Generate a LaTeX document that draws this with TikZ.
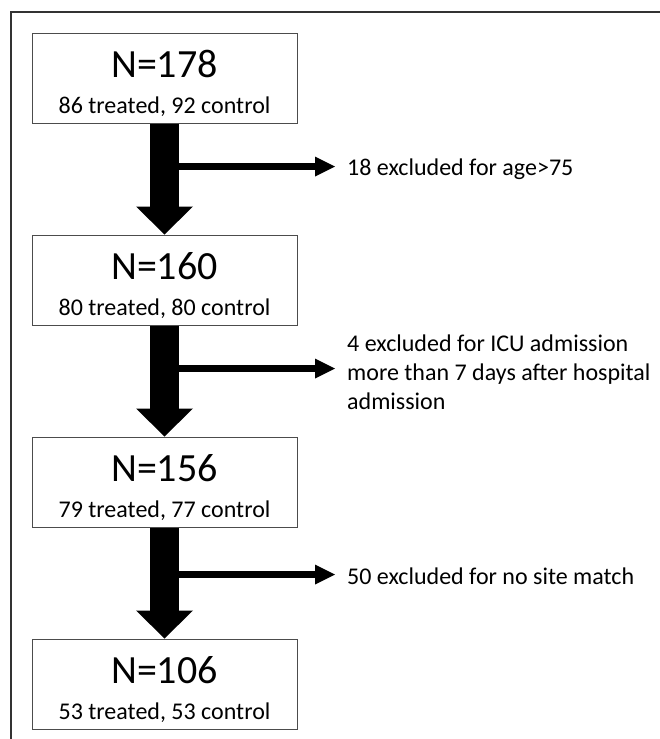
\documentclass[tikz,border=0pt]{standalone}
\usepackage{fontspec}
\setmainfont{Carlito}
\usetikzlibrary{arrows.meta,positioning,calc}

\begin{document}
\begin{tikzpicture}[x=1pt,y=1pt,
    box/.style={draw=black!70,line width=1pt,minimum width=265pt,minimum height=90pt,inner sep=0pt},
    big/.style={inner sep=0pt,font=\fontsize{40}{48}\selectfont},
    small/.style={inner sep=0pt,font=\fontsize{24}{29}\selectfont},
    excl/.style={inner sep=0pt,align=left,anchor=west,font=\fontsize{24}{29}\selectfont},
    flow/.style={line width=29pt,-{Triangle[width=57pt,length=28pt,line width=0pt]}},
    side/.style={line width=7pt,-{Triangle[width=20pt,length=20pt,line width=0pt]},shorten >=12pt}]
\useasboundingbox (0,0) rectangle (660,-739);
% frame
\draw[black!80,line width=1.5pt] (660,-12) -- (11,-12) -- (11,-739);

% boxes
\node[box] (b1) at (164.5,-78) {};
\node[box,below=111pt of b1] (b2) {};
\node[box,below=111pt of b2] (b3) {};
\node[box,below=111pt of b3] (b4) {};

\node[big,anchor=base] (n1) at ([yshift=-44.5pt]b1.north) {N=178};
\node[small,anchor=base] (s1) at ([yshift=10.5pt]b1.south) {86 treated, 92 control};
\node[big,anchor=base] (n2) at ([yshift=-44.5pt]b2.north) {N=160};
\node[small,anchor=base] (s2) at ([yshift=10.5pt]b2.south) {80 treated, 80 control};
\node[big,anchor=base] (n3) at ([yshift=-44.5pt]b3.north) {N=156};
\node[small,anchor=base] (s3) at ([yshift=10.5pt]b3.south) {79 treated, 77 control};
\node[big,anchor=base] (n4) at ([yshift=-44.5pt]b4.north) {N=106};
\node[small,anchor=base] (s4) at ([yshift=10.5pt]b4.south) {53 treated, 53 control};

% exclusions
\coordinate (j1) at ([yshift=-43pt]b1.south);
\coordinate (j2) at ([yshift=-43pt]b2.south);
\coordinate (j3) at ([yshift=-47pt]b3.south);
\node[excl] (e1) at (347,-169) {18 excluded for age>75};
\node[excl] (e2) at (347,-372) {4 excluded for ICU admission\\more than 7 days after hospital\\admission};
\node[excl] (e3) at (347,-576) {50 excluded for no site match};

\draw[side] (j1) -- (j1 -| e1.west);
\draw[side] (j2) -- (j2 -| e2.west);
\draw[side] (j3) -- (j3 -| e3.west);

\draw[flow] (b1.south) -- (b2.north);
\draw[flow] (b2.south) -- (b3.north);
\draw[flow] (b3.south) -- (b4.north);
\end{tikzpicture}
\end{document}
